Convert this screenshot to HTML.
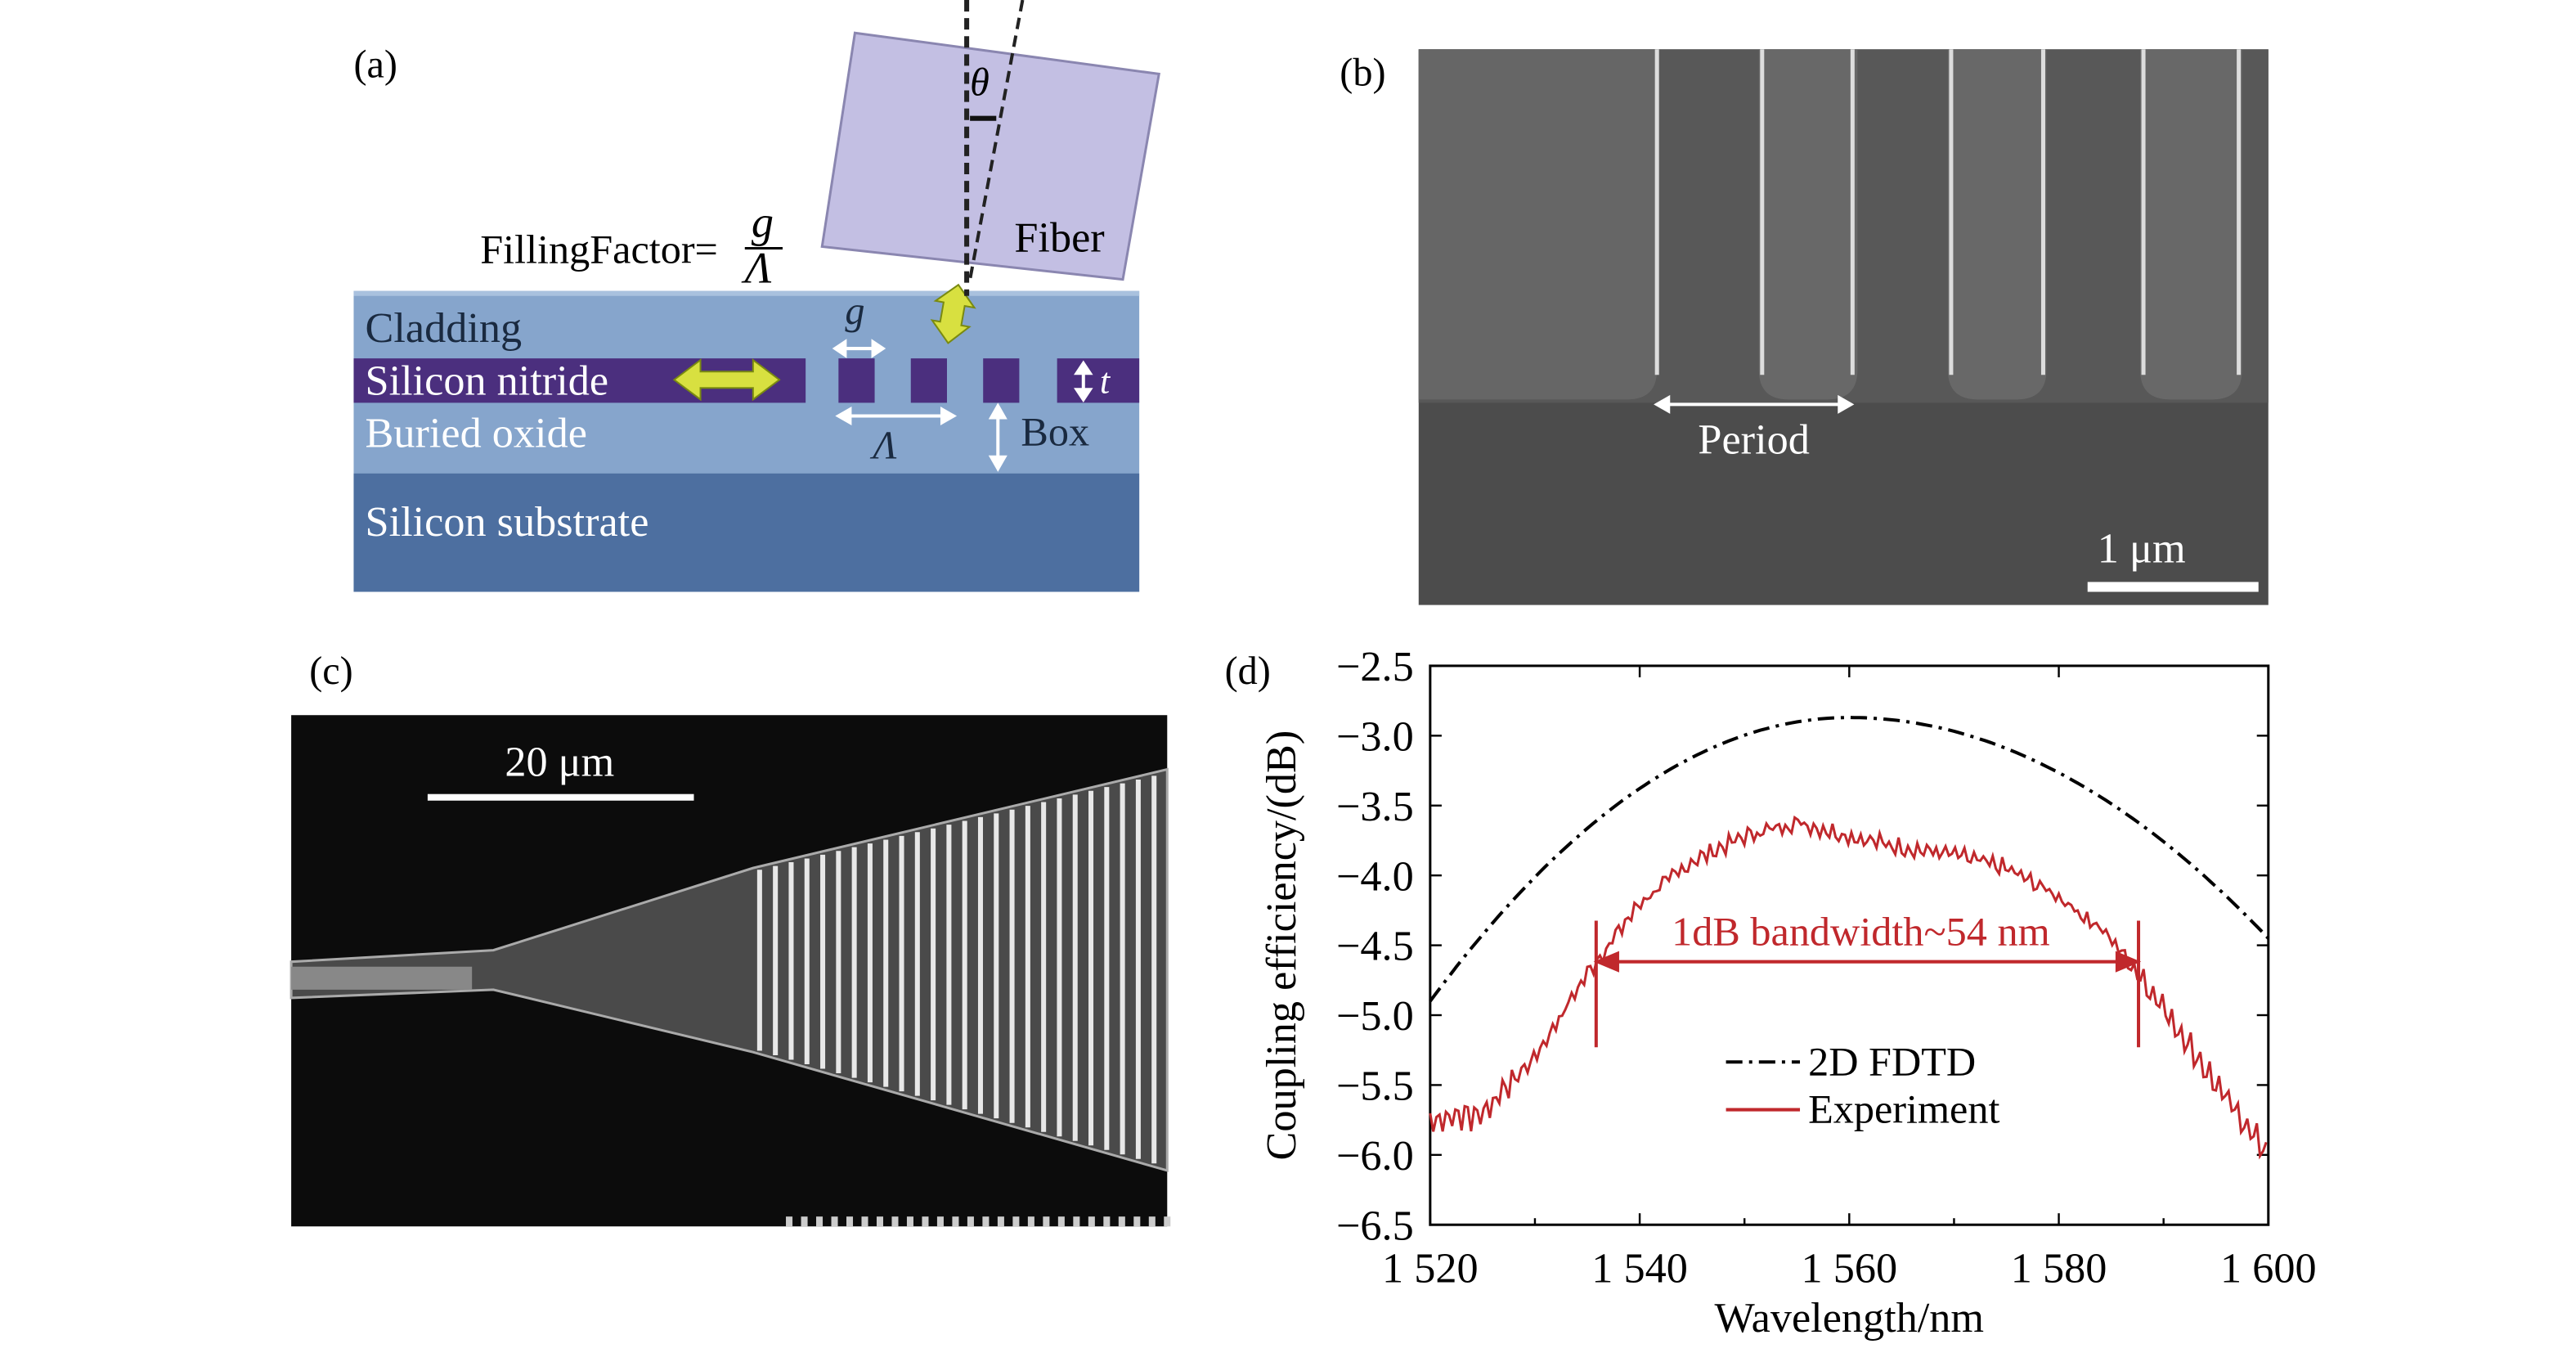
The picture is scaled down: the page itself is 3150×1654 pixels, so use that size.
<!DOCTYPE html>
<html><head><meta charset="utf-8">
<style>
html,body{margin:0;padding:0;background:#fff;}
svg{display:block;}
text{font-family:"Liberation Serif",serif;}
</style></head>
<body>
<svg id="s" width="3150" height="1654" viewBox="0 0 1567 823" xmlns="http://www.w3.org/2000/svg">
<rect width="1567" height="823" fill="#fff"/>
<!-- (a) -->
<text x="215" y="47" font-size="24">(a)</text>
<rect x="215" y="177" width="478" height="183" fill="#86a5cc"/>
<rect x="215" y="288" width="478" height="72" fill="#4d6fa0"/>
<rect x="215" y="177" width="478" height="3" fill="#a9c1de"/>
<g fill="#4b2f7e">
<rect x="215" y="218" width="275" height="27"/>
<rect x="510" y="218" width="22" height="27"/>
<rect x="554" y="218" width="22" height="27"/>
<rect x="598" y="218" width="22" height="27"/>
<rect x="643" y="218" width="50" height="27"/>
</g>
<g font-size="26" fill="#fff">
<text x="222" y="208" fill="#1a2a40">Cladding</text>
<text x="222" y="240">Silicon nitride</text>
<text x="222" y="272">Buried oxide</text>
<text x="222" y="326">Silicon substrate</text>
</g>
<text x="621" y="271" font-size="25" fill="#1a2a40">Box</text>
<text x="669" y="239" font-size="22" font-style="italic" fill="#fff">t</text>
<text x="514" y="197" font-size="24" font-style="italic" fill="#1a2a40">g</text>
<text x="531" y="279" font-size="24" font-style="italic" fill="#1a2a40">Λ</text>
<g stroke="#fff" stroke-width="2" fill="#fff">
<line x1="510" y1="212" x2="535" y2="212"/><path d="M508 212l6-4v8zM537 212l-6-4v8z"/>
<line x1="512" y1="253" x2="578" y2="253"/><path d="M510 253l7-4v8zM580 253l-7-4v8z"/>
<line x1="607" y1="249" x2="607" y2="283"/><path d="M607 247l-4 7h8zM607 285l-4-7h8z"/>
<line x1="659" y1="224" x2="659" y2="240"/><path d="M659 221l-4 6h8zM659 243l-4-6h8z"/>
</g>
<path d="M410 231l16-12v7h32v-7l16 12-16 12v-7h-32v7z" fill="#d8e040" stroke="#7a8a10" stroke-width="1"/>
<path d="M580 173l12 12h-6v12l5 0-11 12-12-12h5v-12h-5z" fill="#d8e040" stroke="#7a8a10" stroke-width="1" transform="rotate(10 580 190)"/>
<polygon points="520,20 705,45 683,170 500,150" fill="#c3bfe3" stroke="#8a86b0" stroke-width="1.5"/>
<line x1="588" y1="0" x2="588" y2="180" stroke="#222" stroke-width="3" stroke-dasharray="7,4"/>
<line x1="622" y1="0" x2="590" y2="170" stroke="#222" stroke-width="2" stroke-dasharray="7,4"/>
<path d="M590 72h16" stroke="#111" stroke-width="3"/>
<text x="590" y="58" font-size="24" font-style="italic">θ</text>
<text x="617" y="153" font-size="26">Fiber</text>
<text x="292" y="160" font-size="25">FillingFactor=</text>
<text x="457" y="144" font-size="27" font-style="italic">g</text>
<line x1="453" y1="151" x2="476" y2="151" stroke="#000" stroke-width="1.5"/>
<text x="453" y="172" font-size="27" font-style="italic">Λ</text>
<!-- (b) -->
<text x="815" y="52" font-size="24">(b)</text>
<rect x="863" y="30" width="517" height="338" fill="#4c4c4c"/>
<rect x="863" y="30" width="517" height="215" fill="#585858"/>
<path d="M863 30h145v195q0 18-18 18h-127z" fill="#666"/>
<g fill="#686868">
<path d="M1070 30h60v195q0 18-18 18h-24q-18 0-18-18z"/>
<path d="M1185 30h60v195q0 18-18 18h-24q-18 0-18-18z"/>
<path d="M1302 30h62v195q0 18-18 18h-26q-18 0-18-18z"/>
</g>
<g stroke="#ddd" stroke-width="2.5">
<line x1="1008" y1="30" x2="1008" y2="228"/>
<line x1="1072" y1="30" x2="1072" y2="228"/>
<line x1="1127" y1="30" x2="1127" y2="228"/>
<line x1="1187" y1="30" x2="1187" y2="228"/>
<line x1="1243" y1="30" x2="1243" y2="228"/>
<line x1="1304" y1="30" x2="1304" y2="228"/>
<line x1="1362" y1="30" x2="1362" y2="228"/>
</g>
<g stroke="#fff" stroke-width="2" fill="#fff">
<line x1="1012" y1="246" x2="1122" y2="246"/><path d="M1008 246l7-4v8zM1126 246l-7-4v8z"/>
</g>
<text x="1033" y="276" font-size="26" fill="#fff">Period</text>
<text x="1276" y="342" font-size="26" fill="#fff">1 μm</text>
<rect x="1270" y="354" width="104" height="6" fill="#fff"/>
<!-- (c) -->
<text x="188" y="416" font-size="24">(c)</text>
<rect x="177" y="435" width="533" height="311" fill="#0c0c0c"/>
<path d="M177 585 L300 578 L458 528 L710 468 L710 712 L458 640 L300 602 L177 607z" fill="#4a4a4a" stroke="#aaa" stroke-width="1.5"/>
<path d="M177 588h110v14h-110z" fill="#888"/>
<g id="stripes" stroke="#e8e8e8" stroke-width="3"></g>
<g id="teeth" fill="#ccc"></g>
<rect x="260" y="483" width="162" height="4" fill="#fff"/>
<text x="307" y="472" font-size="26" fill="#fff">20 μm</text>
<!-- (d) -->
<text x="745" y="416" font-size="24">(d)</text>
<rect x="870" y="405" width="510" height="340" fill="none" stroke="#000" stroke-width="1.5"/>
<g id="ticks" stroke="#000" stroke-width="1.2"></g>
<g id="lbls" font-size="26"></g>
<text x="1125" y="810" font-size="26" text-anchor="middle">Wavelength/nm</text>
<text transform="translate(788 575) rotate(-90)" font-size="26" text-anchor="middle">Coupling efficiency/(dB)</text>
<path id="fd" fill="none" stroke="#000" stroke-width="2" stroke-dasharray="10,4,2,4"/>
<path id="ex" fill="none" stroke="#c0282c" stroke-width="1.5"/>
<g stroke="#c0282c" stroke-width="2" fill="#c0282c">
<line x1="971" y1="560" x2="971" y2="637"/>
<line x1="1301" y1="560" x2="1301" y2="637"/>
<line x1="980" y1="585" x2="1292" y2="585"/>
<path d="M972 585l12-5v10zM1300 585l-12-5v10z"/>
</g>
<text x="1132" y="575" font-size="25" fill="#c0282c" text-anchor="middle">1dB bandwidth~54 nm</text>
<line x1="1050" y1="646" x2="1095" y2="646" stroke="#000" stroke-width="2" stroke-dasharray="10,4,2,4"/>
<text x="1100" y="654" font-size="25">2D FDTD</text>
<line x1="1050" y1="675" x2="1095" y2="675" stroke="#c0282c" stroke-width="2"/>
<text x="1100" y="683" font-size="25">Experiment</text>
</svg>
<script>
var NS="http://www.w3.org/2000/svg";
function el(p,t,a,txt){var e=document.createElementNS(NS,t);for(var k in a)e.setAttribute(k,a[k]);if(txt)e.textContent=txt;document.getElementById(p).appendChild(e);}
for(var i=0;i<26;i++){var x=462+i*9.6;var t=(x-458)/252;var yt=528-60*t, yb=640+72*t;
el("stripes","line",{x1:x,y1:yt+2,x2:x,y2:yb-2});}
for(var i=0;i<26;i++){el("teeth","rect",{x:478+i*9.2,y:740,width:4,height:6});}
var X=function(w){return 870+(w-1520)*6.375},Y=function(d){return 405+(-2.5-d)*85};
for(var w=1520;w<=1600;w+=20){el("ticks","line",{x1:X(w),y1:745,x2:X(w),y2:738});el("ticks","line",{x1:X(w),y1:405,x2:X(w),y2:412});
el("lbls","text",{x:X(w),y:780,"text-anchor":"middle"},(w+"").replace(/^1/,"1 "));}
for(var w=1530;w<1600;w+=20){el("ticks","line",{x1:X(w),y1:745,x2:X(w),y2:741});}
for(var d=-2.5;d>=-6.5;d-=0.5){el("ticks","line",{x1:870,y1:Y(d),x2:877,y2:Y(d)});el("ticks","line",{x1:1380,y1:Y(d),x2:1373,y2:Y(d)});
el("lbls","text",{x:860,y:Y(d)+9,"text-anchor":"end"},"\u2212"+Math.abs(d).toFixed(1));}
var p="";for(var w=1520;w<=1600;w+=0.5){var d=w<1560?-2.87-2.03*Math.pow((1560-w)/40,2):-2.87-1.58*Math.pow((w-1560)/40,2);p+=(p?"L":"M")+X(w).toFixed(1)+" "+Y(d).toFixed(1);}
document.getElementById("fd").setAttribute("d",p);
var k=[[1520,-5.75],[1525,-5.7],[1530,-5.3],[1535,-4.7],[1540,-4.2],[1545,-3.9],[1550,-3.72],[1555,-3.62],[1560,-3.72],[1565,-3.8],[1570,-3.85],[1575,-3.95],[1580,-4.15],[1585,-4.45],[1590,-4.95],[1595,-5.5],[1600,-6.0]];
function base(w){for(var i=0;i<k.length-1;i++){if(w<=k[i+1][0]){var t=(w-k[i][0])/5;return k[i][1]+(k[i+1][1]-k[i][1])*t;}}return -6;}
p="";var s=7;for(var w=1520;w<=1600;w+=0.3){s=(s*9301+49297)%233280;var r=s/233280-0.5;var amp=(w>1588||w<1528)?0.09:0.04;var d=base(w)+amp*Math.sin(w*7)+r*0.07;p+=(p?"L":"M")+X(w).toFixed(1)+" "+Y(d).toFixed(1);}
document.getElementById("ex").setAttribute("d",p);
</script>
</body></html>
